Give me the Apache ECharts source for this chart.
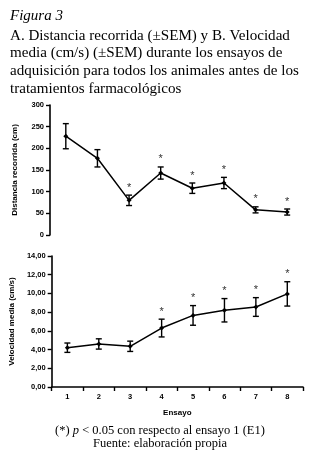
<!DOCTYPE html>
<html><head><meta charset="utf-8">
<script src="https://cdn.jsdelivr.net/npm/echarts@6/dist/echarts.min.js"></script>
<style>html,body{margin:0;padding:0;background:#fff}#c{width:320px;height:460px}</style>
</head><body><div id="c"></div>
<script>
const categories = ['1','2','3','4','5','6','7','8'];
const distMean = [228, 177, 80, 143, 108, 120, 58, 53];
const distSem  = [29, 20, 12, 14, 12, 13, 7, 7];
const distSig  = [0, 0, 1, 1, 1, 1, 1, 1];
const velMean = [4.2, 4.6, 4.35, 6.3, 7.65, 8.2, 8.55, 9.95];
const velSem  = [0.5, 0.55, 0.55, 0.95, 1.05, 1.25, 1.0, 1.3];
const velSig  = [0, 0, 0, 1, 1, 1, 1, 1];
const titleLines = ['A. Distancia recorrida (\u00B1SEM) y B. Velocidad','media (cm/s) (\u00B1SEM) durante los ensayos de','adquisición para todos los animales antes de los','tratamientos farmacológicos'];
const footLines = ['(*) {i|p} < 0.05 con respecto al ensayo 1 (E1)','Fuente: elaboración propia'];

const chart = echarts.init(document.getElementById('c'));
const lab = {fontFamily:'Liberation Sans', fontWeight:'bold', fontSize:7.5, color:'#000'};
function errItem(params, api){
  const x = api.value(0), m = api.value(1), e = api.value(2), s = api.value(3);
  const t = api.coord([x, m + e]), b = api.coord([x, m - e]);
  const w = 3;
  const st = {stroke:'#000', lineWidth:1.4};
  const ch = [
    {type:'line', shape:{x1:t[0], y1:t[1], x2:b[0], y2:b[1]}, style:st},
    {type:'line', shape:{x1:t[0]-w, y1:t[1], x2:t[0]+w, y2:t[1]}, style:st},
    {type:'line', shape:{x1:b[0]-w, y1:b[1], x2:b[0]+w, y2:b[1]}, style:st}
  ];
  if (s) ch.push({type:'text', style:{text:'*', x:t[0], y:t[1]-2, align:'center', verticalAlign:'bottom', fontSize:11, fontFamily:'Liberation Sans', fill:'#333'}});
  return {type:'group', children:ch};
}
function errData(mean, sem, sig){ return mean.map((v,i)=>[i, v, sem[i], sig[i]]); }
const serifFoot = {fontFamily:'Liberation Serif', fontWeight:'normal', fontSize:12.5, color:'#000',
  rich:{i:{fontFamily:'Liberation Serif', fontStyle:'italic', fontSize:12.5, color:'#000'}}};

chart.setOption({
  animation:false,
  backgroundColor:'#fff',
  title:[
    {text:'Figura 3', left:5, top:4, textStyle:{fontFamily:'Liberation Serif', fontStyle:'italic', fontWeight:'normal', fontSize:15, color:'#000'}},
    {text:titleLines.join('\n'), left:5, top:22, textStyle:{fontFamily:'Liberation Serif', fontWeight:'normal', fontSize:15.1, lineHeight:17.6, color:'#000'}},
    {text:footLines[0], left:'center', top:419, textStyle:serifFoot},
    {text:footLines[1], left:'center', top:432, textStyle:serifFoot}
  ],
  grid:[
    {left:50, right:17, top:105, height:130},
    {left:50, right:17, top:256, height:131}
  ],
  xAxis:[
    {type:'category', gridIndex:0, data:categories, show:false, boundaryGap:true},
    {type:'category', gridIndex:1, data:categories, boundaryGap:true,
     name:'Ensayo', nameLocation:'middle', nameGap:22, nameTextStyle:{fontFamily:'Liberation Sans', fontWeight:'bold', fontSize:8, color:'#000'},
     axisLine:{lineStyle:{color:'#000', width:1.6}}, axisTick:{show:true, length:4, lineStyle:{color:'#000', width:1.4}},
     axisLabel:Object.assign({margin:6}, lab)}
  ],
  yAxis:[
    {type:'value', gridIndex:0, min:0, max:300, interval:50,
     name:'Distancia recorrida (cm)', nameLocation:'middle', nameGap:31, nameRotate:90,
     nameTextStyle:{fontFamily:'Liberation Sans', fontWeight:'bold', fontSize:8, color:'#000'},
     axisLine:{show:true, lineStyle:{color:'#000', width:1.6}}, axisTick:{show:true, length:4, lineStyle:{color:'#000', width:1.4}},
     splitLine:{show:false}, axisLabel:Object.assign({margin:6}, lab)},
    {type:'value', gridIndex:1, min:0, max:14, interval:2,
     name:'Velocidad media (cm/s)', nameLocation:'middle', nameGap:31, nameRotate:90,
     nameTextStyle:{fontFamily:'Liberation Sans', fontWeight:'bold', fontSize:8, color:'#000'},
     axisLine:{show:true, lineStyle:{color:'#000', width:1.6}}, axisTick:{show:true, length:4, lineStyle:{color:'#000', width:1.4}},
     splitLine:{show:false}, axisLabel:Object.assign({margin:6, formatter:v=>v.toFixed(2).replace('.',',')}, lab)}
  ],
  series:[
    {type:'line', xAxisIndex:0, yAxisIndex:0, data:distMean, symbol:'diamond', symbolSize:5, itemStyle:{color:'#000'}, lineStyle:{color:'#000', width:1.5}, z:3},
    {type:'custom', xAxisIndex:0, yAxisIndex:0, data:errData(distMean, distSem, distSig), renderItem:errItem, z:2},
    {type:'line', xAxisIndex:1, yAxisIndex:1, data:velMean, symbol:'diamond', symbolSize:5, itemStyle:{color:'#000'}, lineStyle:{color:'#000', width:1.5}, z:3},
    {type:'custom', xAxisIndex:1, yAxisIndex:1, data:errData(velMean, velSem, velSig), renderItem:errItem, z:2}
  ]
});
</script></body></html>
